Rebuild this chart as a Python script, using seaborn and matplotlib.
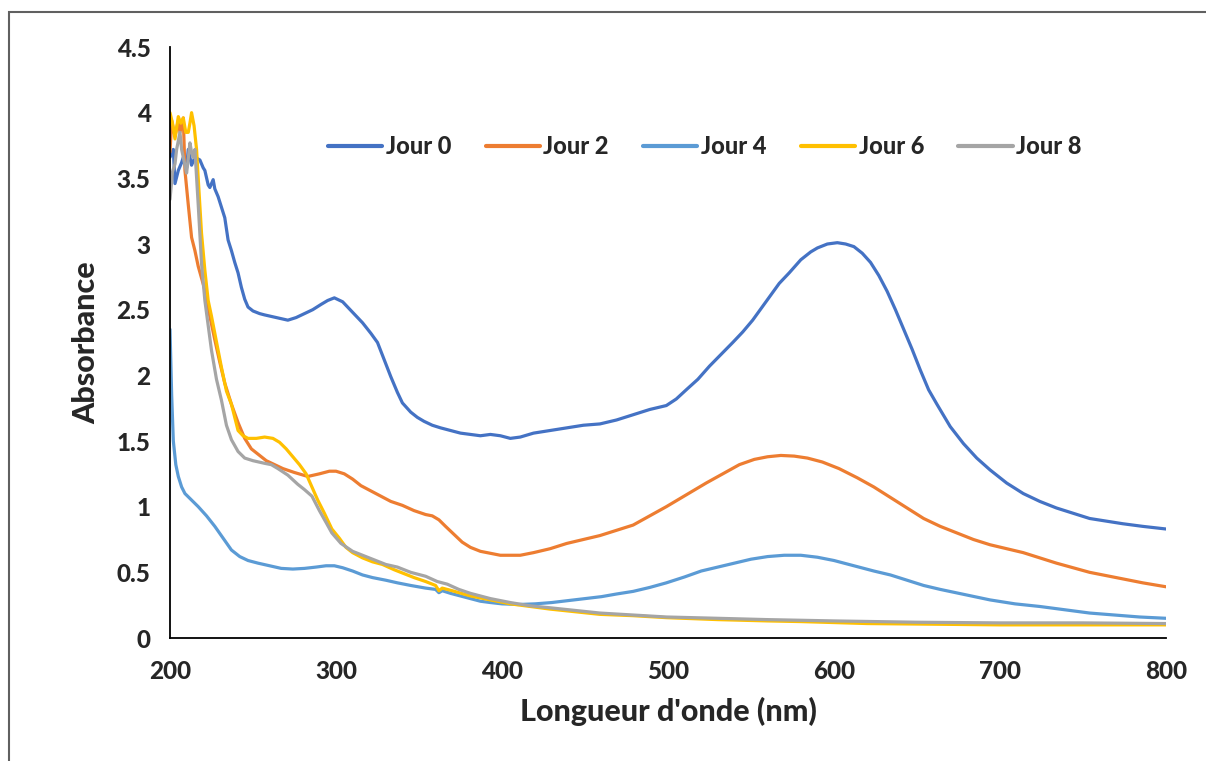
import matplotlib
matplotlib.use("Agg")
import matplotlib.pyplot as plt
import matplotlib.patches as patches
import seaborn as sns

# UV-vis spectra
wl_j0 = [200, 202, 203, 205, 207, 208, 210, 211, 213, 215, 218, 220, 221, 223, 224, 226, 227, 229,
         231, 233, 235, 237, 239, 241, 243, 245, 247, 250, 254, 257, 264, 271, 276, 281, 286, 291,
         295, 299, 304, 310, 316, 321, 325, 329, 333, 337, 340, 345, 349, 353, 358, 363, 369, 375,
         381, 387, 393, 399, 405, 411, 419, 429, 439, 449, 459, 469, 479, 489, 499, 505, 511, 518,
         525, 532, 539, 545, 551, 559, 567, 573, 580, 586, 590, 596, 602, 607, 612, 617, 622, 627,
         632, 637, 642, 647, 652, 657, 662, 670, 678, 686, 694, 704, 714, 724, 734, 744, 754, 764,
         774, 786, 800]
abs_j0 = [3.66, 3.72, 3.46, 3.56, 3.62, 3.66, 3.58, 3.72, 3.60, 3.66, 3.64, 3.58, 3.56, 3.45, 3.43,
          3.49, 3.42, 3.36, 3.28, 3.20, 3.03, 2.95, 2.86, 2.78, 2.67, 2.58, 2.52, 2.49, 2.47, 2.46,
          2.44, 2.42, 2.44, 2.47, 2.50, 2.54, 2.57, 2.59, 2.56, 2.48, 2.40, 2.32, 2.25, 2.12, 1.99,
          1.87, 1.79, 1.72, 1.68, 1.65, 1.62, 1.60, 1.58, 1.56, 1.55, 1.54, 1.55, 1.54, 1.52, 1.53,
          1.56, 1.58, 1.60, 1.62, 1.63, 1.66, 1.70, 1.74, 1.77, 1.82, 1.89, 1.97, 2.07, 2.16, 2.25,
          2.33, 2.42, 2.56, 2.70, 2.78, 2.88, 2.94, 2.97, 3.00, 3.01, 3.00, 2.98, 2.93, 2.86, 2.76,
          2.64, 2.50, 2.35, 2.20, 2.04, 1.89, 1.78, 1.61, 1.48, 1.37, 1.28, 1.18, 1.10, 1.04, 0.99,
          0.95, 0.91, 0.89, 0.87, 0.85, 0.83]

wl_j2 = [200, 201, 203, 205, 206, 208, 209, 211, 213, 215, 217, 219, 221, 224, 227, 230, 233, 237,
         241, 245, 249, 253, 258, 263, 268, 275, 283, 290, 296, 300, 305, 310, 315, 321, 327, 333,
         340, 347, 354, 358, 362, 366, 371, 376, 381, 387, 393, 399, 405, 411, 419, 429, 439, 449,
         459, 469, 479, 489, 499, 511, 523, 533, 543, 552, 560, 568, 576, 584, 593, 603, 614, 624,
         634, 644, 654, 664, 674, 684, 694, 704, 714, 724, 734, 744, 754, 764, 774, 786, 800]
abs_j2 = [3.70, 3.94, 3.82, 3.94, 3.85, 3.96, 3.56, 3.30, 3.05, 2.95, 2.83, 2.74, 2.65, 2.45, 2.27,
          2.10, 1.94, 1.78, 1.64, 1.52, 1.44, 1.40, 1.35, 1.32, 1.29, 1.26, 1.23, 1.25, 1.27, 1.27,
          1.25, 1.21, 1.16, 1.12, 1.08, 1.04, 1.01, 0.97, 0.94, 0.93, 0.90, 0.85, 0.79, 0.73, 0.69,
          0.66, 0.645, 0.63, 0.63, 0.63, 0.65, 0.68, 0.72, 0.75, 0.78, 0.82, 0.86, 0.93, 1.00, 1.09,
          1.18, 1.25, 1.32, 1.36, 1.38, 1.39, 1.385, 1.37, 1.34, 1.29, 1.22, 1.15, 1.07, 0.99, 0.91,
          0.85, 0.80, 0.75, 0.71, 0.68, 0.65, 0.61, 0.57, 0.535, 0.50, 0.475, 0.45, 0.42, 0.39]

wl_j4 = [200, 201, 202, 203.5, 205, 207, 209, 213, 217, 222, 227, 232, 237, 242, 247, 253, 260, 267,
         274, 281, 288, 294, 299, 304, 310, 316, 322, 330, 337, 345, 354, 360, 362, 364, 369, 375,
         381, 387, 393, 400, 410, 420, 430, 440, 450, 460, 469, 479, 489, 499, 510, 520, 530, 540,
         550, 560, 570, 580, 590, 600, 612, 624, 634, 644, 654, 664, 679, 694, 709, 724, 739, 754,
         769, 784, 800]
abs_j4 = [2.35, 1.85, 1.50, 1.32, 1.23, 1.15, 1.10, 1.05, 1.00, 0.93, 0.85, 0.76, 0.67, 0.62, 0.59,
          0.57, 0.55, 0.53, 0.525, 0.53, 0.54, 0.55, 0.55, 0.535, 0.51, 0.48, 0.46, 0.44, 0.42, 0.40,
          0.38, 0.37, 0.345, 0.36, 0.34, 0.32, 0.30, 0.28, 0.27, 0.26, 0.255, 0.26, 0.27, 0.285,
          0.30, 0.315, 0.335, 0.355, 0.385, 0.42, 0.465, 0.51, 0.54, 0.57, 0.60, 0.62, 0.63, 0.63,
          0.615, 0.59, 0.55, 0.51, 0.48, 0.44, 0.40, 0.37, 0.33, 0.29, 0.26, 0.24, 0.215, 0.19,
          0.175, 0.16, 0.15]

wl_j6 = [200, 201.5, 203, 205, 206.5, 208, 209.5, 211, 212, 213, 214.5, 216, 217, 219, 221, 223, 225,
         227, 229, 231, 234, 237, 239, 241, 244, 247, 252, 257, 262, 266, 270, 274, 278, 282, 285.5,
         289, 293, 297.5, 302, 306, 310, 316, 322, 328, 335, 341, 347, 354, 360, 362, 364, 370, 381,
         393, 405, 417, 429, 444, 459, 479, 499, 530, 560, 580, 620, 660, 700, 750, 800]
abs_j6 = [4.00, 3.92, 3.80, 3.97, 3.92, 3.96, 3.85, 3.85, 3.92, 4.00, 3.90, 3.72, 3.50, 3.08, 2.80,
          2.57, 2.45, 2.32, 2.19, 2.06, 1.88, 1.78, 1.68, 1.58, 1.54, 1.52, 1.52, 1.53, 1.52, 1.49,
          1.44, 1.38, 1.32, 1.25, 1.15, 1.05, 0.95, 0.83, 0.76, 0.69, 0.65, 0.61, 0.58, 0.56, 0.52,
          0.49, 0.46, 0.43, 0.40, 0.36, 0.38, 0.36, 0.32, 0.29, 0.26, 0.24, 0.22, 0.20, 0.18, 0.17,
          0.155, 0.14, 0.13, 0.125, 0.11, 0.105, 0.10, 0.10, 0.10]

wl_j8 = [200, 201.5, 203, 204, 206, 207, 208, 209, 210, 211, 212, 213, 214, 215, 216, 217, 219, 221,
         223, 225, 228, 231, 234, 237, 241, 245, 250, 257, 261, 265, 271, 277, 281, 285.5, 290, 294,
         297.5, 303, 310, 316, 322, 330, 337, 345, 354, 361, 367, 374, 381, 393, 405, 417, 429, 444,
         459, 479, 499, 530, 560, 600, 650, 700, 750, 800]
abs_j8 = [3.34, 3.55, 3.61, 3.72, 3.85, 3.72, 3.66, 3.60, 3.54, 3.65, 3.77, 3.70, 3.66, 3.72, 3.51,
          3.30, 2.85, 2.57, 2.38, 2.19, 1.97, 1.81, 1.62, 1.51, 1.42, 1.37, 1.35, 1.33, 1.32, 1.29,
          1.24, 1.17, 1.13, 1.08, 0.97, 0.88, 0.80, 0.72, 0.66, 0.63, 0.60, 0.56, 0.54, 0.50, 0.47,
          0.43, 0.41, 0.37, 0.34, 0.30, 0.27, 0.245, 0.23, 0.21, 0.19, 0.175, 0.16, 0.15, 0.14,
          0.13, 0.12, 0.115, 0.115, 0.11]

labels = ["Jour 0", "Jour 2", "Jour 4", "Jour 6", "Jour 8"]
colors = ["#4472C4", "#ED7D31", "#5B9BD5", "#FFC000", "#A5A5A5"]
y_ticks = [0, 0.5, 1, 1.5, 2, 2.5, 3, 3.5, 4, 4.5]
x_ticks = [200, 300, 400, 500, 600, 700, 800]

sns.set_style("white")
plt.rcParams['font.family'] = ['Lato', 'DejaVu Sans']

fig = plt.figure(figsize=(12.06, 7.61), dpi=100)
ax = fig.add_axes([170 / 1206, 1 - 638 / 761, 996 / 1206, 591 / 761])

series = [(wl_j0, abs_j0), (wl_j2, abs_j2), (wl_j4, abs_j4), (wl_j6, abs_j6), (wl_j8, abs_j8)]
for (wl, ab), lab, col in zip(series, labels, colors):
    sns.lineplot(x=wl, y=ab, ax=ax, color=col, linewidth=2.3, label=lab, sort=False)

ax.set_xlim(200, 800)
ax.set_ylim(0, 4.5)
ax.set_xticks(x_ticks)
ax.set_xticklabels([str(t) for t in x_ticks], fontsize=17.5, fontweight='black')
ax.set_yticks(y_ticks)
ax.set_yticklabels([f"{t:g}" for t in y_ticks], fontsize=17.5, fontweight='black')
ax.tick_params(axis='both', direction='out', length=7, width=1.3, color='black')
ax.tick_params(axis='y', pad=7)
ax.tick_params(axis='x', pad=9)

for side in ['top', 'right']:
    ax.spines[side].set_visible(False)
for side in ['left', 'bottom']:
    ax.spines[side].set_color('black')
    ax.spines[side].set_linewidth(1.3)

ax.set_xlabel("Longueur d'onde (nm)", fontsize=22, fontweight='black', labelpad=10)
ax.set_ylabel("Absorbance", fontsize=22, fontweight='black', labelpad=12)

leg = ax.legend(loc='center', bbox_to_anchor=(0.537, 0.832), ncol=5, frameon=False,
                prop={'weight': 'black', 'size': 17}, handlelength=2.3,
                handletextpad=0.15, columnspacing=1.45)
for line in leg.get_lines():
    line.set_linewidth(3)

# outer chart frame (cropped on right and bottom)
frame = patches.Rectangle((9 / 1206, -0.1), 1.2, 0.1 + (761 - 12) / 761, transform=fig.transFigure,
                          fill=False, edgecolor='#606060', linewidth=1.5, clip_on=False)
fig.patches.append(frame)

fig.savefig("out.png", dpi=100)
